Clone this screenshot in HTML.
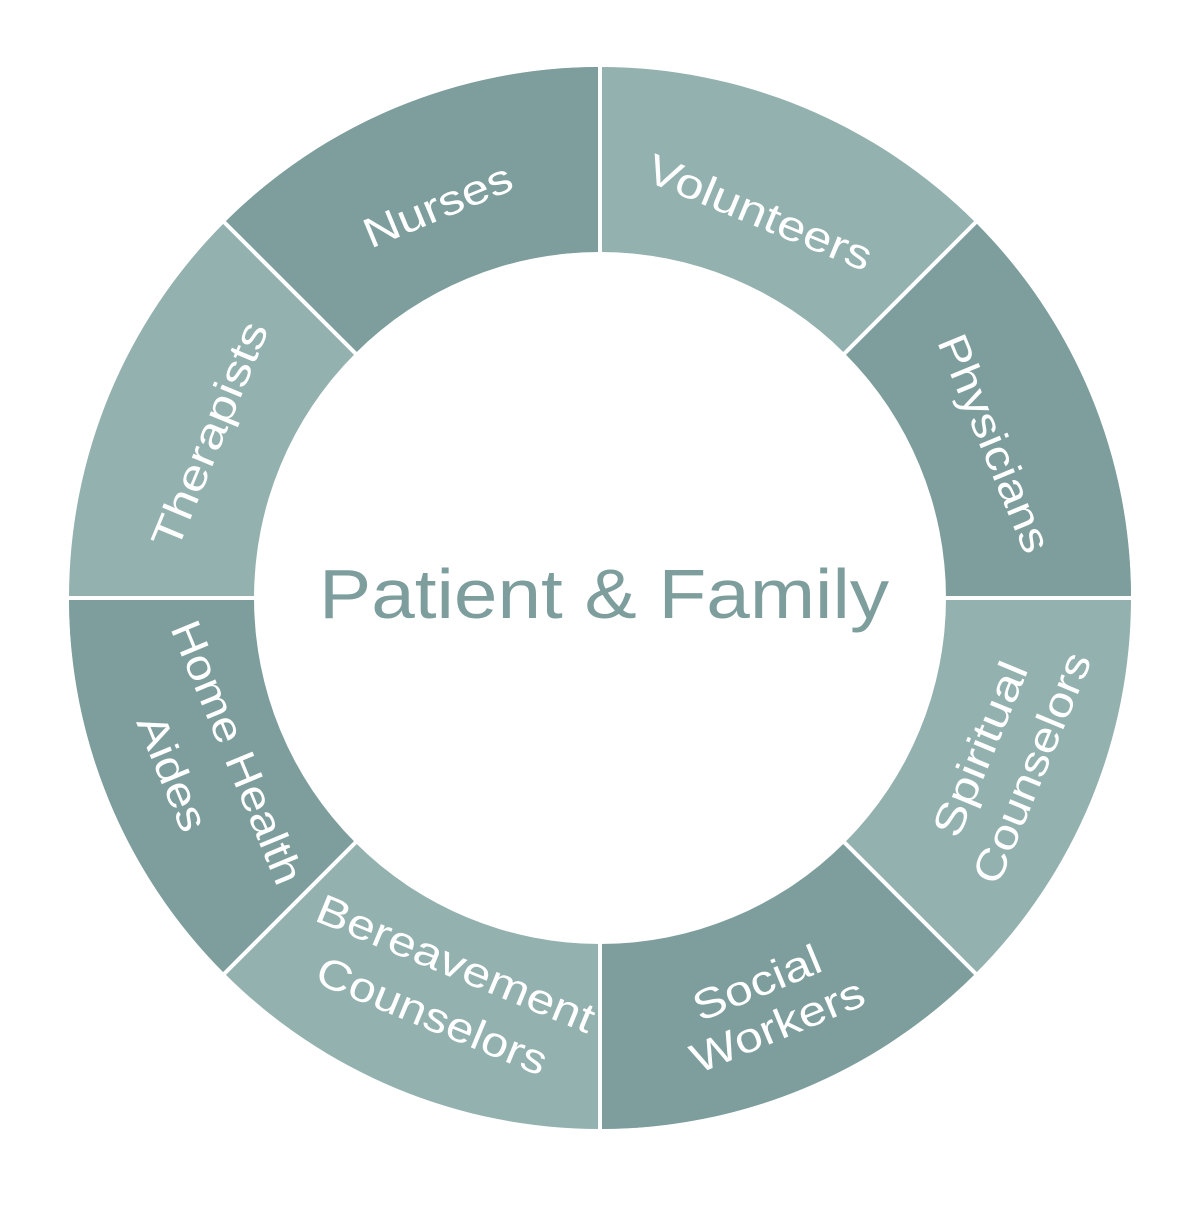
<!DOCTYPE html>
<html><head><style>html,body{margin:0;padding:0;background:#fff}</style></head>
<body>
<svg width="1200" height="1200" viewBox="0 0 1200 1200" xmlns="http://www.w3.org/2000/svg">
<circle cx="600" cy="598" r="531" fill="#93b1ae"/>
<g fill="#7d9e9c">
<path d="M600,598 L224.5,222.5 A531 531 0 0 1 600,67 Z"/>
<path d="M600,598 L975.5,222.5 A531 531 0 0 1 1131,598 Z"/>
<path d="M600,598 L975.5,973.5 A531 531 0 0 1 600,1129 Z"/>
<path d="M600,598 L224.5,973.5 A531 531 0 0 1 69,598 Z"/>
</g>
<g stroke="#fff" stroke-width="4">
<line x1="600" y1="60" x2="600" y2="1140"/>
<line x1="60" y1="598" x2="1140" y2="598"/>
<line x1="218" y1="216" x2="982" y2="980"/>
<line x1="982" y1="216" x2="218" y2="980"/>
</g>
<circle cx="600" cy="598" r="346" fill="#fff"/>
<text x="604" y="618" text-anchor="middle" font-family="Liberation Sans, sans-serif" font-size="70" fill="#7d9e9c" textLength="570" lengthAdjust="spacingAndGlyphs">Patient &amp; Family</text>
<g font-family="Liberation Sans, sans-serif" font-size="42" fill="#fff">
<g transform="translate(437,205) rotate(-22.5)"><text x="-78" y="15" textLength="157" lengthAdjust="spacingAndGlyphs">Nurses</text></g>
<g transform="translate(760,212) rotate(22.5)"><text x="-120" y="15" textLength="240" lengthAdjust="spacingAndGlyphs">Volunteers</text></g>
<g transform="translate(995,443) rotate(67.5)"><text x="-116" y="15" textLength="232" lengthAdjust="spacingAndGlyphs">Physicians</text></g>
<g transform="translate(209,435) rotate(-67.5)"><text x="-120" y="15" textLength="241" lengthAdjust="spacingAndGlyphs">Therapists</text></g>
<text transform="translate(170,628) rotate(67.5)" textLength="281" lengthAdjust="spacingAndGlyphs">Home Health</text>
<text transform="translate(136,722) rotate(67.5)" textLength="122" lengthAdjust="spacingAndGlyphs">Aides</text>
<text transform="translate(313,920) rotate(22.5)" textLength="297" lengthAdjust="spacingAndGlyphs">Bereavement</text>
<text transform="translate(313,982) rotate(22.5)" textLength="246" lengthAdjust="spacingAndGlyphs">Counselors</text>
<text transform="translate(700,1022) rotate(-22.5)" textLength="135" lengthAdjust="spacingAndGlyphs">Social</text>
<text transform="translate(698,1074) rotate(-22.5)" textLength="184" lengthAdjust="spacingAndGlyphs">Workers</text>
<text transform="translate(958,840) rotate(-67.5)" textLength="185" lengthAdjust="spacingAndGlyphs">Spiritual</text>
<text transform="translate(998,887) rotate(-67.5)" textLength="246" lengthAdjust="spacingAndGlyphs">Counselors</text>
</g>
</svg>
</body></html>
